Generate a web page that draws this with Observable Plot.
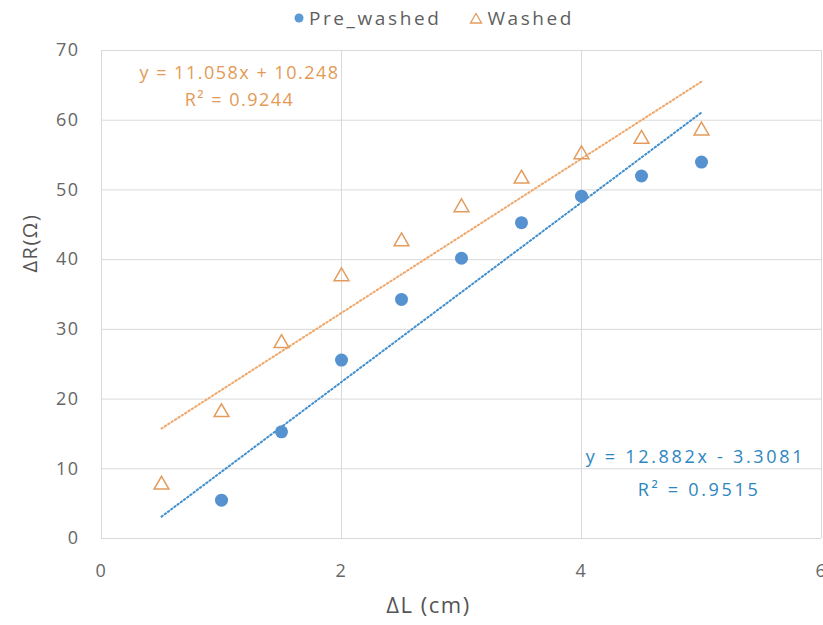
<!DOCTYPE html>
<html>
<head>
<meta charset="utf-8">
<script src="https://cdn.jsdelivr.net/npm/d3@7"></script>
<script src="https://cdn.jsdelivr.net/npm/@observablehq/plot@0.6"></script>
<style>
  body { margin: 0; background: #fff; font-family: "Open Sans", sans-serif; }
  #legend { height: 36px; display: flex; justify-content: center; align-items: center; gap: 28px; font-size: 19px; letter-spacing: 2.6px; color: #5f5f5f; padding-left: 44px; }
  #legend span { display: inline-flex; align-items: center; gap: 4px; }
</style>
</head>
<body>
<div id="legend">
  <span><svg width="12" height="12"><circle cx="6" cy="6" r="4.5" fill="#5B9BD5"/></svg>Pre_washed</span>
  <span><svg width="14" height="12"><path d="M7,1.5 L12.5,11 L1.5,11 Z" fill="none" stroke="#E39C5E" stroke-width="1.3"/></svg>Washed</span>
</div>
<div id="chart"></div>
<script>
const preX = [1, 1.5, 2, 2.5, 3, 3.5, 4, 4.5, 5];
const preY = [5.5, 15.3, 25.6, 34.3, 40.2, 45.3, 49.1, 52.0, 54.0];
const washX = [0.5, 1, 1.5, 2, 2.5, 3, 3.5, 4, 4.5, 5];
const washY = [7.7, 18.1, 28.0, 37.6, 42.6, 47.5, 51.6, 55.1, 57.3, 58.5];
const fits = [
  {series: "Pre_washed", slope: 12.882, intercept: -3.3081, from: 0.5, to: 5},
  {series: "Washed", slope: 11.058, intercept: 10.248, from: 0.5, to: 5}
];
const xTicks = [0, 2, 4, 6];
const yTicks = [0, 10, 20, 30, 40, 50, 60, 70];
const washedLabels = [
  {x: 1.15, y: 66.7, text: "y = 11.058x + 10.248"},
  {x: 1.15, y: 62.8, text: "R² = 0.9244"}
];
const preLabels = [
  {x: 4.95, y: 11.6, text: "y = 12.882x - 3.3081"},
  {x: 4.98, y: 6.9, text: "R² = 0.9515"}
];

const pre = preX.map((x, i) => ({x, y: preY[i]}));
const wash = washX.map((x, i) => ({x, y: washY[i]}));
const lines = fits.flatMap(f => [f.from, f.to].map(x => ({series: f.series, x, y: f.slope * x + f.intercept})));

const chart = Plot.plot({
  width: 823,
  height: 589,
  marginLeft: 101,
  marginRight: 2,
  marginTop: 14,
  marginBottom: 87,
  style: {fontFamily: "Open Sans, sans-serif", fontSize: "18px", color: "#666", letterSpacing: "1.5px"},
  x: {domain: [0, 6], ticks: xTicks},
  y: {domain: [0, 70], ticks: yTicks},
  marks: [
    Plot.gridY(yTicks, {stroke: "#d9d9d9", strokeOpacity: 1}),
    Plot.gridX(xTicks, {stroke: "#d9d9d9", strokeOpacity: 1}),
    Plot.axisX(xTicks, {tickSize: 0, tickPadding: 26, fontSize: 18, fill: "#666", tickFormat: "d", label: null}),
    Plot.axisY(yTicks, {tickSize: 0, tickPadding: 22, fontSize: 18, fill: "#666", tickFormat: "d", label: null}),
    Plot.text(["ΔL (cm)"], {frameAnchor: "bottom", dx: -33, dy: 74, fontSize: 22, fill: "#555"}),
    Plot.text(["ΔR(Ω)"], {frameAnchor: "left", dx: -71, dy: -22, rotate: -90, fontSize: 20, fill: "#555"}),
    Plot.line(lines.filter(d => d.series === "Washed"), {x: "x", y: "y", stroke: "#EFA76A", strokeWidth: 2, strokeDasharray: "1.5,2.5"}),
    Plot.line(lines.filter(d => d.series === "Pre_washed"), {x: "x", y: "y", stroke: "#3F8FCF", strokeWidth: 2, strokeDasharray: "1.5,2.5"}),
    Plot.dot(pre, {x: "x", y: "y", r: 6.5, fill: "#5592CF", stroke: "none"}),
    Plot.dot(wash, {x: "x", y: "y", symbol: "triangle", r: 5.5, fill: "none", stroke: "#E39C5E", strokeWidth: 1.5}),
    Plot.text(washedLabels, {x: "x", y: "y", text: "text", fill: "#E39A57", fontSize: 18}),
    Plot.text(preLabels, {x: "x", y: "y", text: "text", fill: "#2E86C1", fontSize: 18})
  ]
});
d3.select(chart).selectAll("text").each(function() {
  const t = this.textContent;
  if (t === "ΔL (cm)") this.setAttribute("letter-spacing", "1.5px");
  if (t === "y = 12.882x - 3.3081" || t === "R² = 0.9515") this.setAttribute("letter-spacing", "2.7px");
});
document.getElementById("chart").appendChild(chart);
</script>
</body>
</html>
